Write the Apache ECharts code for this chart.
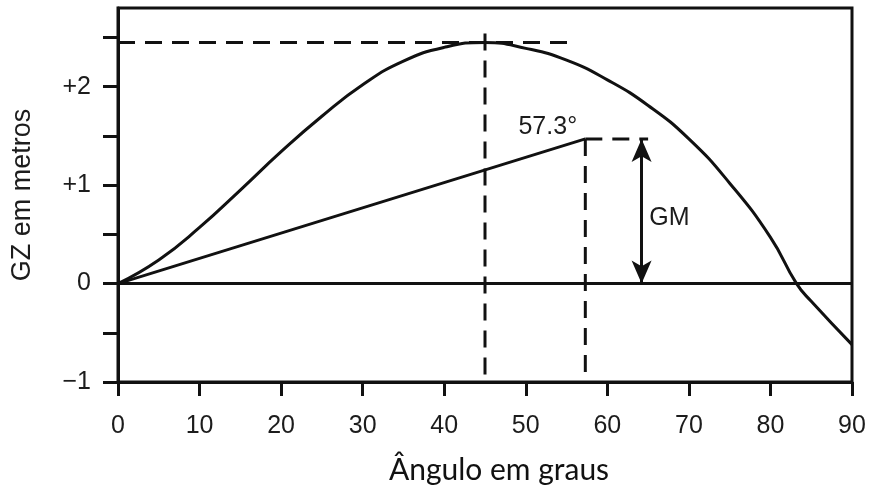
<!DOCTYPE html>
<html>
<head>
<meta charset="utf-8">
<script src="https://cdn.jsdelivr.net/npm/echarts@6/dist/echarts.min.js"></script>
<style>html,body{margin:0;padding:0;background:#fff;}#chart{width:870px;height:490px;}</style>
</head>
<body>
<div id="chart"></div>
<script>
// ---- data ----
var angles = [0, 5, 10, 15, 20, 25, 30, 35, 40, 45, 50, 55, 60, 65, 70, 75, 80, 83.2, 85, 90];
var gzValues = [0, 0.24, 0.57, 0.95, 1.34, 1.70, 2.02, 2.26, 2.40, 2.45, 2.39, 2.27, 2.07, 1.81, 1.47, 1.02, 0.47, 0, -0.18, -0.62];
var xTicks = [0, 10, 20, 30, 40, 50, 60, 70, 80, 90];
var yTickLabels = [-1, 0, 1, 2];
var yTicks = [-1, -0.5, 0, 0.5, 1, 1.5, 2, 2.5];
var gmAngle = 57.3;
var gmValue = 1.47;
var peakAngle = 45;
var peakGz = 2.45;
var peakDashEnd = 55.8;
var peakDashTop = 2.54;
var gmArrowAngle = 64.2;
var gmDashEnd = 65;
var annotations = [
  { text: '57.3°', x: 52.7, y: 1.59 },
  { text: 'GM', x: 67.6, y: 0.67 }
];

var INK = '#111';
var TXT = '#1c1c1c';
var SANS = '"Liberation Sans", Arial, Helvetica, sans-serif';

function pairs(xs, ys) { return xs.map(function (x, i) { return [x, ys[i]]; }); }

var solid = function (w) { return { color: INK, width: w, type: 'solid' }; };
var dashed = { color: INK, width: 3, type: [17, 10] };

var chart = echarts.init(document.getElementById('chart'));
chart.setOption({
  animation: false,
  backgroundColor: '#fff',
  grid: { left: 118, right: 18, top: 8, bottom: 108, show: true, borderColor: INK, borderWidth: 3, backgroundColor: 'transparent' },
  xAxis: {
    type: 'value', min: xTicks[0], max: xTicks[xTicks.length - 1], interval: 10,
    name: 'Ângulo em graus', nameLocation: 'middle', nameGap: 73,
    nameTextStyle: { fontFamily: 'Lato, "Noto Sans", sans-serif', fontSize: 30, color: '#111', padding: [0, 0, 0, 28] },
    axisLine: { onZero: false, lineStyle: { color: INK, width: 3 } },
    axisTick: { inside: false, length: 14, lineStyle: { color: INK, width: 3 } },
    axisLabel: { fontFamily: SANS, fontSize: 25, color: TXT, margin: 32 },
    splitLine: { show: false }
  },
  yAxis: {
    type: 'value', min: -1, max: 2.8,
    name: 'GZ em metros', nameLocation: 'middle', nameGap: 82, nameRotate: 90,
    nameTextStyle: { fontFamily: SANS, fontSize: 27, color: TXT },
    axisLine: { onZero: false, lineStyle: { color: INK, width: 3 } },
    axisTick: { customValues: yTicks, length: 15, lineStyle: { color: INK, width: 3 } },
    axisLabel: {
      customValues: yTickLabels, fontFamily: SANS, fontSize: 25, color: TXT, margin: 27,
      formatter: function (v) { return v > 0 ? '+' + v : (v < 0 ? '\u2212' + Math.abs(v) : '0'); }
    },
    splitLine: { show: false }
  },
  series: [
    { type: 'line', data: pairs(angles, gzValues), smooth: 0.5, showSymbol: false, lineStyle: solid(3), z: 5 },
    { type: 'line', data: [[0, 0], [gmAngle, gmValue]], showSymbol: false, lineStyle: solid(2.8), z: 5 },
    { type: 'line', data: [[xTicks[0], 0], [xTicks[xTicks.length - 1], 0]], showSymbol: false, lineStyle: solid(3), z: 4 },
    { type: 'line', data: [[0, peakGz], [peakDashEnd, peakGz]], showSymbol: false, lineStyle: dashed, z: 3 },
    { type: 'line', data: [[peakAngle, peakDashTop], [peakAngle, -1]], showSymbol: false, lineStyle: dashed, z: 3 },
    { type: 'line', data: [[gmAngle, gmValue], [gmAngle, -1]], showSymbol: false, lineStyle: dashed, z: 3 },
    { type: 'line', data: [[gmAngle, gmValue], [gmDashEnd, gmValue]], showSymbol: false, lineStyle: dashed, z: 3 },
    {
      type: 'line', data: [], silent: true,
      markLine: {
        silent: true, symbol: ['arrow', 'arrow'], symbolSize: [15, 23],
        label: { show: false },
        lineStyle: { color: INK, width: 3, type: 'solid' },
        data: [[{ coord: [gmArrowAngle, gmValue] }, { coord: [gmArrowAngle, 0] }]]
      }
    },
    {
      type: 'scatter', symbolSize: 1, silent: true, z: 10,
      itemStyle: { color: 'rgba(0,0,0,0)' },
      data: annotations.map(function (a) { return { value: [a.x, a.y], name: a.text }; }),
      label: { show: true, position: 'inside', formatter: '{b}', fontFamily: SANS, fontSize: 25, color: TXT, textBorderWidth: 0, opacity: 1 }
    }
  ]
});
</script>
</body>
</html>
